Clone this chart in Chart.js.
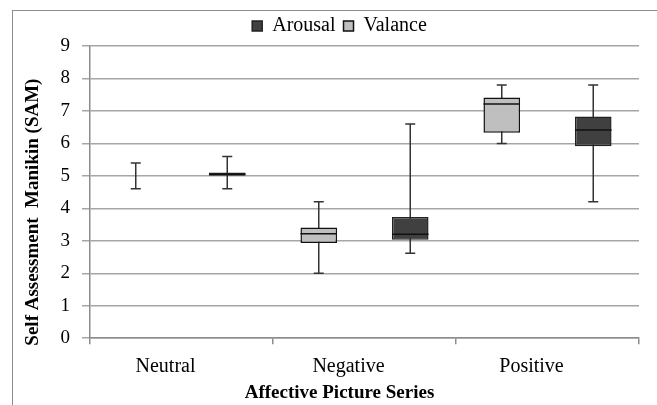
<!DOCTYPE html>
<html>
<head>
<meta charset="utf-8">
<script src="https://cdn.jsdelivr.net/npm/chart.js@4"></script>
<style>
  html, body { margin: 0; padding: 0; background: #fff; }
  #wrap { position: relative; width: 657px; height: 405px; overflow: hidden; }
  #frame { position: absolute; left: 12px; top: 10px; width: 700px; height: 500px; border: 1px solid #8c8c8c; }
  canvas { position: absolute; left: 0; top: 0; }
</style>
</head>
<body>
<div id="wrap">
  <div id="frame"></div>
  <canvas id="myChart" width="657" height="405"></canvas>
</div>
<script>
// categories and box plot values
var categories = ['Neutral', 'Negative', 'Positive'];

var valanceMin    = [4.6, 2.0, 6.0];
var valanceQ1     = [5.0, 2.93, 6.33];
var valanceMedian = [5.0, 3.22, 7.21];
var valanceQ3     = [5.0, 3.41, 7.41];
var valanceMax    = [5.4, 4.2, 7.8];

var arousalMin    = [4.6, 2.62, 4.2];
var arousalQ1     = [5.0, 3.03, 5.91];
var arousalMedian = [5.05, 3.2, 6.41];
var arousalQ3     = [5.1, 3.73, 6.83];
var arousalMax    = [5.6, 6.6, 7.8];

var yTicks = [0, 1, 2, 3, 4, 5, 6, 7, 8, 9];

var serif = '"Liberation Serif", "Times New Roman", serif';

function boxes(q1, q3) {
    return q1.map(function (v, i) { return [v, q3[i]]; });
}

var stats = [
    { min: valanceMin, median: valanceMedian, max: valanceMax },
    { min: arousalMin, median: arousalMedian, max: arousalMax }
];

// whiskers behind the boxes, medians on top
var boxPlotPlugin = {
    id: 'boxPlot',
    beforeDatasetsDraw: function (chart) {
        var ctx = chart.ctx;
        var y = chart.scales.y;
        ctx.save();
        ctx.strokeStyle = '#333333';
        ctx.lineWidth = 1.5;
        chart.data.datasets.forEach(function (ds, d) {
            chart.getDatasetMeta(d).data.forEach(function (bar, i) {
                var top = y.getPixelForValue(stats[d].max[i]);
                var bottom = y.getPixelForValue(stats[d].min[i]);
                ctx.beginPath();
                ctx.moveTo(bar.x, top);
                ctx.lineTo(bar.x, bottom);
                ctx.moveTo(bar.x - 5, top);
                ctx.lineTo(bar.x + 5, top);
                ctx.moveTo(bar.x - 5, bottom);
                ctx.lineTo(bar.x + 5, bottom);
                ctx.stroke();
            });
        });
        ctx.restore();
    },
    afterDatasetsDraw: function (chart) {
        var ctx = chart.ctx;
        var y = chart.scales.y;
        var area = chart.chartArea;
        ctx.save();
        ctx.strokeStyle = '#111111';
        ctx.lineWidth = 1.5;
        chart.data.datasets.forEach(function (ds, d) {
            chart.getDatasetMeta(d).data.forEach(function (bar, i) {
                if (ds.data[i][0] === ds.data[i][1]) return;
                var m = y.getPixelForValue(stats[d].median[i]);
                ctx.beginPath();
                ctx.moveTo(bar.x - bar.width / 2, m);
                ctx.lineTo(bar.x + bar.width / 2, m);
                ctx.stroke();
            });
        });
        // y axis title
        ctx.fillStyle = '#000';
        ctx.font = 'bold 19px ' + serif;
        ctx.textAlign = 'center';
        ctx.textBaseline = 'middle';
        ctx.translate(area.left - 57, (area.top + area.bottom) / 2 + 20);
        ctx.rotate(-Math.PI / 2);
        ctx.fillText('Self Assessment  Manikin (SAM)', 0, 0);
        ctx.restore();
    }
};

var ctx = document.getElementById('myChart').getContext('2d');
var chart = new Chart(ctx, {
    type: 'bar',
    data: {
        labels: categories,
        datasets: [{
            label: 'Valance',
            data: boxes(valanceQ1, valanceQ3),
            backgroundColor: '#bfbfbf',
            borderColor: '#111111',
            borderWidth: 1.5,
            borderSkipped: false,
            barPercentage: 0.4,
            categoryPercentage: 1
        }, {
            label: 'Arousal',
            data: boxes(arousalQ1, arousalQ3),
            backgroundColor: '#404040',
            borderColor: '#222222',
            borderWidth: 1.5,
            borderSkipped: false,
            barPercentage: 0.4,
            categoryPercentage: 1
        }]
    },
    options: {
        responsive: false,
        animation: false,
        layout: { padding: { left: 40, right: 18, top: 8, bottom: 1 } },
        plugins: {
            legend: {
                position: 'top',
                reverse: true,
                labels: {
                    boxWidth: 10,
                    boxHeight: 10,
                    padding: 8,
                    color: '#000',
                    font: { family: serif, size: 20 }
                }
            },
            title: {
                display: true,
                position: 'bottom',
                text: 'Affective Picture Series',
                color: '#000',
                padding: { top: -9, bottom: 0 },
                font: { family: serif, size: 19, weight: 'bold' }
            },
            tooltip: { enabled: false }
        },
        scales: {
            x: {
                offset: true,
                grid: {
                    offset: true,
                    drawOnChartArea: false,
                    tickLength: 6,
                    color: '#8c8c8c',
                    lineWidth: 1.5
                },
                border: { color: '#8c8c8c', width: 1.5 },
                ticks: {
                    color: '#000',
                    padding: 11,
                    labelOffset: -16,
                    font: { family: serif, size: 20 }
                }
            },
            y: {
                min: yTicks[0],
                max: yTicks[yTicks.length - 1],
                afterFit: function (scale) { scale.width = 50; },
                afterBuildTicks: function (scale) {
                    scale.ticks = yTicks.map(function (v) { return { value: v }; });
                },
                grid: {
                    color: '#a6a6a6',
                    lineWidth: 1.5,
                    tickLength: 8
                },
                border: { color: '#8c8c8c', width: 1.5 },
                ticks: {
                    color: '#000',
                    padding: 12,
                    font: { family: serif, size: 19 }
                }
            }
        }
    },
    plugins: [boxPlotPlugin]
});
</script>
</body>
</html>
